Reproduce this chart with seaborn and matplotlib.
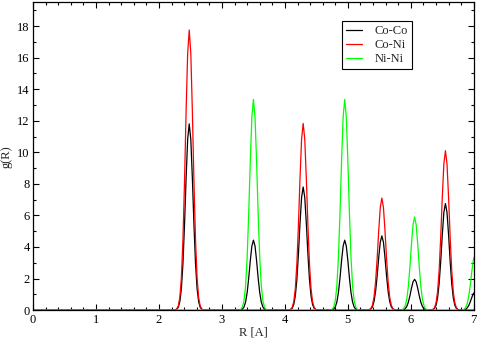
import numpy as np
import pandas as pd
import matplotlib
matplotlib.use("Agg")
import matplotlib.pyplot as plt
from matplotlib.ticker import MultipleLocator
import seaborn as sns

# peak positions (A) and heights
peak_r = [2.48, 3.50, 4.29, 4.95, 5.54, 6.06, 6.55, 7.02]
co_co = [11.8, 4.43, 7.8, 4.43, 4.7, 1.95, 6.75, 1.15]
co_ni = [17.75, 0.0, 11.83, 0.0, 7.1, 0.0, 10.1, 0.0]
ni_ni = [0.0, 13.35, 0.0, 13.35, 0.0, 5.9, 0.0, 3.5]

# common peak profile (offset from peak centre, relative height)
offsets = [-0.225, -0.2, -0.175, -0.15, -0.125, -0.1, -0.075, -0.05, -0.025, 0.0,
           0.025, 0.05, 0.075, 0.1, 0.125, 0.15, 0.175, 0.2, 0.225]
profile = [0.0, 0.004, 0.014, 0.044, 0.114, 0.249, 0.458, 0.707, 0.917, 1.0,
           0.917, 0.707, 0.458, 0.249, 0.114, 0.044, 0.014, 0.004, 0.0]

series = {"Co-Co": co_co, "Co-Ni": co_ni, "Ni-Ni": ni_ni}

rows = []
for name, heights in series.items():
    rows.append((name, 0.0, 0.0))
    for c, h in zip(peak_r, heights):
        for d, p in zip(offsets, profile):
            rows.append((name, round(c + d, 4), h * p))
df = pd.DataFrame(rows, columns=["pair", "R", "g"])

sns.set_style("ticks")
plt.rcParams["font.family"] = ["Liberation Serif", "DejaVu Serif"]
plt.rcParams["font.size"] = 9

fig = plt.figure(figsize=(4.8, 3.4), dpi=100)
ax = fig.add_axes([0.069, 0.088, 0.918, 0.905])

sns.lineplot(data=df, x="R", y="g", hue="pair", estimator=None, sort=True,
             palette=["black", "red", "#00ff00"], linewidth=0.9, ax=ax)

ax.set_xlim(0, 7)
ax.set_ylim(0, 19.5)
ax.xaxis.set_major_locator(MultipleLocator(1))
ax.xaxis.set_minor_locator(MultipleLocator(0.2))
ax.yaxis.set_major_locator(MultipleLocator(2))
ax.yaxis.set_minor_locator(MultipleLocator(1))
ax.tick_params(which="both", direction="in", top=True, right=True,
               width=0.8, labelsize=9, pad=2.5, colors="black")
ax.tick_params(which="major", length=4.5)
ax.tick_params(which="minor", length=2.5)
for s in ax.spines.values():
    s.set_visible(True)
    s.set_color("black")
    s.set_linewidth(0.9)

ax.set_xlabel("R [A]", fontsize=9, labelpad=1)
ax.set_ylabel("g(R)", fontsize=9)
ax.yaxis.set_label_coords(-0.047, 0.5)

handles, labels = ax.get_legend_handles_labels()
leg = ax.legend(handles, labels, loc="upper left", bbox_to_anchor=(0.70, 0.94),
                fancybox=False, framealpha=1, edgecolor="black", fontsize=9,
                handlelength=1.3, handletextpad=1.0, labelspacing=0.15,
                borderpad=0.35, borderaxespad=0)
leg.get_frame().set_linewidth(0.8)

fig.savefig("out.png", dpi=100)
